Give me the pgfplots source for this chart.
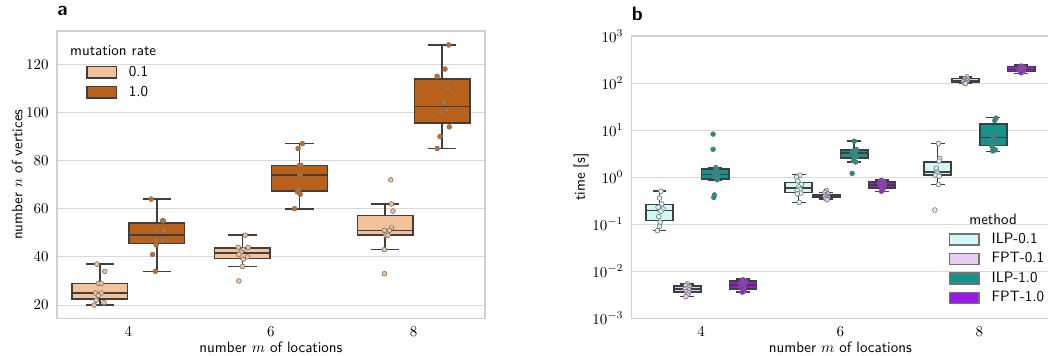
\documentclass[border=0pt]{standalone}
\usepackage{pgfplots}
\pgfplotsset{compat=1.18}
\usepgfplotslibrary{statistics}

\definecolor{lo}{HTML}{F3C29B}
\definecolor{hi}{HTML}{B9611A}
\definecolor{hipt}{HTML}{C96C1F}
\definecolor{ilpa}{HTML}{D4F7F5}
\definecolor{fpta}{HTML}{E8CCF2}
\definecolor{ilpb}{HTML}{13938B}
\definecolor{fptb}{HTML}{9A1AE3}
\definecolor{edge}{HTML}{3F3F3F}
\definecolor{gridc}{HTML}{D9D9D9}
\definecolor{framec}{HTML}{D0D0D0}

\pgfplotsset{
  common/.style={
    scale only axis,
    axis line style={framec, line width=1pt},
    ymajorgrids,
    grid style={gridc, line width=0.7pt},
    major tick length=0pt,
    tick style={draw=none},
    xmin=3, xmax=9, xtick={4,6,8},
    label style={font=\sffamily},
    xlabel={number $m$ of locations},
    xlabel style={yshift=3pt},
    ylabel shift=-4.5pt,
    yticklabel style={xshift=-2pt},
    xticklabel style={yshift=-2pt},
    title style={at={(0,1)}, anchor=base west, yshift=4pt, inner sep=0pt,
      font=\sffamily\bfseries\fontsize{13}{15}\selectfont},
    legend image code/.code={\draw[#1] (0pt,-3.7pt) rectangle (19.5pt,3.7pt);},
    legend cell align=left,
    legend style={draw=none, fill=none, font=\sffamily, inner sep=0pt,
      nodes={inner sep=1pt, text height=6.9pt, text depth=1.9pt},
      /tikz/every odd column/.append style={column sep=7pt}},
  },
  bx/.style={draw=edge, line width=1.05pt, fill=#1, forget plot, solid, boxplot/draw direction=y},
  pts/.style={only marks, mark=*, mark size=1.6pt, forget plot,
    mark options={fill=#1, draw=black!55, line width=0.4pt}},
}

\begin{document}
\begin{tikzpicture}
\useasboundingbox (0,0) rectangle (698.67pt,237.33pt);

% ---------------- panel a ----------------
\begin{axis}[common,
  at={(38pt,25.13pt)}, anchor=south west,
  width=285.33pt, height=191.53pt,
  ymin=14.5, ymax=133.8, ytick={20,40,60,80,100,120},
  ylabel={number $n$ of vertices},
  title={a},
  legend style={at={(0.068,0.885)}, anchor=north west, row sep=2.5pt},
]
% boxes, mutation rate 0.1
\addplot[bx=lo, boxplot prepared={draw position=3.6, lower whisker=20, lower quartile=22.5, median=25, upper quartile=29, upper whisker=37, box extend=0.78, whisker extend=0.4}] coordinates {};
\addplot[bx=lo, boxplot prepared={draw position=5.6, lower whisker=36, lower quartile=39.25, median=41.5, upper quartile=43.75, upper whisker=49, box extend=0.78, whisker extend=0.4}] coordinates {};
\addplot[bx=lo, boxplot prepared={draw position=7.6, lower whisker=43, lower quartile=49, median=51, upper quartile=57.25, upper whisker=62, box extend=0.78, whisker extend=0.4}] coordinates {};
% boxes, mutation rate 1.0
\addplot[bx=hi, boxplot prepared={draw position=4.4, lower whisker=34, lower quartile=45.5, median=49, upper quartile=54, upper whisker=64, box extend=0.78, whisker extend=0.4}] coordinates {};
\addplot[bx=hi, boxplot prepared={draw position=6.4, lower whisker=60, lower quartile=67.25, median=74, upper quartile=78, upper whisker=87, box extend=0.78, whisker extend=0.4}] coordinates {};
\addplot[bx=hi, boxplot prepared={draw position=8.4, lower whisker=85, lower quartile=95.5, median=102.5, upper quartile=113.75, upper whisker=128, box extend=0.78, whisker extend=0.4}] coordinates {};
% points 0.1
\addplot[pts=lo] table[row sep=\\] {x y\\
3.56 37\\ 3.67 34\\ 3.58 29\\ 3.62 29\\ 3.54 25\\ 3.62 25\\ 3.58 24\\ 3.55 22\\ 3.66 21\\ 3.52 20\\
5.64 49\\ 5.54 44\\ 5.68 44\\ 5.61 43\\ 5.58 42\\ 5.55 41\\ 5.67 40\\ 5.61 39\\ 5.60 36\\ 5.55 30\\
7.68 72\\ 7.69 62\\ 7.71 59\\ 7.69 52\\ 7.59 51\\ 7.66 51\\ 7.61 49\\ 7.64 49\\ 7.59 43\\ 7.59 33\\
};
% points 1.0
\addplot[pts=hipt] table[row sep=\\] {x y\\
4.32 64\\ 4.48 55\\ 4.49 55\\ 4.40 51\\ 4.50 51\\ 4.39 47\\ 4.48 47\\ 4.39 45\\ 4.34 41\\ 4.38 34\\
6.44 87\\ 6.38 85\\ 6.40 78\\ 6.42 78\\ 6.41 74\\ 6.40 74\\ 6.39 68\\ 6.37 67\\ 6.41 66\\ 6.33 60\\
8.49 128\\ 8.44 118\\ 8.33 115\\ 8.48 110\\ 8.43 104\\ 8.46 101\\ 8.38 100\\ 8.50 94\\ 8.37 90\\ 8.33 85\\
};
\addlegendimage{draw=edge, line width=0.8pt, fill=lo}
\addlegendentry{0.1}
\addlegendimage{draw=edge, line width=0.8pt, fill=hi}
\addlegendentry{1.0}
\node[anchor=west, font=\sffamily, inner sep=0pt] at (rel axis cs:0.030,0.930) {mutation rate};
\end{axis}

% ---------------- panel b ----------------
\begin{axis}[common,
  at={(421.13pt,25.13pt)}, anchor=south west,
  width=278.2pt, height=188.2pt,
  ymode=log, ymin=1e-3, ymax=1e3,
  ytick={1e-3,1e-2,1e-1,1,1e1,1e2,1e3},
  ylabel={time [s]},
  title={b},
  legend style={at={(0.760,0.309)}, anchor=north west, row sep=2.2pt},
]
% ILP-0.1
\addplot[bx=ilpa, boxplot prepared={draw position=3.4, lower whisker=0.073, lower quartile=0.119, median=0.194, upper quartile=0.26, upper whisker=0.508, box extend=0.39, whisker extend=0.2}] coordinates {};
\addplot[bx=ilpa, boxplot prepared={draw position=5.4, lower whisker=0.287, lower quartile=0.469, median=0.58, upper quartile=0.776, upper whisker=1.15, box extend=0.39, whisker extend=0.2}] coordinates {};
\addplot[bx=ilpa, boxplot prepared={draw position=7.4, lower whisker=0.70, lower quartile=1.11, median=1.27, upper quartile=2.1, upper whisker=5.24, box extend=0.39, whisker extend=0.2}] coordinates {};
% FPT-0.1
\addplot[bx=fpta, boxplot prepared={draw position=3.8, lower whisker=0.0029, lower quartile=0.0036, median=0.0042, upper quartile=0.0049, upper whisker=0.0054, box extend=0.39, whisker extend=0.2}] coordinates {};
\addplot[bx=fpta, boxplot prepared={draw position=5.8, lower whisker=0.34, lower quartile=0.366, median=0.40, upper quartile=0.43, upper whisker=0.47, box extend=0.39, whisker extend=0.2}] coordinates {};
\addplot[bx=fpta, boxplot prepared={draw position=7.8, lower whisker=97, lower quartile=105, median=114, upper quartile=124, upper whisker=135, box extend=0.39, whisker extend=0.2}] coordinates {};
% ILP-1.0
\addplot[bx=ilpb, boxplot prepared={draw position=4.2, lower whisker=0.88, lower quartile=0.914, median=1.15, upper quartile=1.49, upper whisker=1.55, box extend=0.39, whisker extend=0.2}] coordinates {};
\addplot[bx=ilpb, boxplot prepared={draw position=6.2, lower whisker=2.1, lower quartile=2.55, median=3.3, upper quartile=3.78, upper whisker=5.87, box extend=0.39, whisker extend=0.2}] coordinates {};
\addplot[bx=ilpb, boxplot prepared={draw position=8.2, lower whisker=3.54, lower quartile=4.67, median=6.9, upper quartile=13.5, upper whisker=18.7, box extend=0.39, whisker extend=0.2}] coordinates {};
% FPT-1.0
\addplot[bx=fptb, boxplot prepared={draw position=4.6, lower whisker=0.0036, lower quartile=0.0042, median=0.0051, upper quartile=0.0062, upper whisker=0.0068, box extend=0.39, whisker extend=0.2}] coordinates {};
\addplot[bx=fptb, boxplot prepared={draw position=6.6, lower whisker=0.50, lower quartile=0.59, median=0.68, upper quartile=0.79, upper whisker=0.88, box extend=0.39, whisker extend=0.2}] coordinates {};
\addplot[bx=fptb, boxplot prepared={draw position=8.6, lower whisker=160, lower quartile=175, median=195, upper quartile=223, upper whisker=240, box extend=0.39, whisker extend=0.2}] coordinates {};
% points
\addplot[pts=ilpa] table[row sep=\\] {x y\\
3.42 0.50\\ 3.40 0.36\\ 3.43 0.27\\ 3.38 0.23\\ 3.45 0.21\\ 3.42 0.19\\ 3.39 0.145\\ 3.41 0.11\\ 3.40 0.09\\ 3.37 0.073\\
5.42 1.10\\ 5.37 1.00\\ 5.39 0.83\\ 5.44 0.70\\ 5.40 0.62\\ 5.42 0.55\\ 5.38 0.52\\ 5.43 0.46\\ 5.38 0.44\\ 5.41 0.29\\
7.41 5.2\\ 7.43 2.5\\ 7.42 2.2\\ 7.38 1.55\\ 7.39 1.3\\ 7.40 1.2\\ 7.37 1.1\\ 7.42 1.05\\ 7.41 0.70\\ 7.36 0.20\\
};
\addplot[pts=fpta] table[row sep=\\] {x y\\
3.80 0.0054\\ 3.78 0.0050\\ 3.83 0.0047\\ 3.81 0.0044\\ 3.77 0.0042\\ 3.82 0.0040\\ 3.79 0.0037\\ 3.82 0.0035\\ 3.80 0.0032\\ 3.78 0.0029\\
5.80 0.52\\ 5.78 0.47\\ 5.82 0.44\\ 5.79 0.42\\ 5.81 0.40\\ 5.78 0.39\\ 5.82 0.37\\ 5.80 0.36\\ 5.79 0.345\\ 5.81 0.33\\
7.82 135\\ 7.79 125\\ 7.83 120\\ 7.80 115\\ 7.78 112\\ 7.82 110\\ 7.77 106\\ 7.81 103\\ 7.79 100\\ 7.80 97\\
};
\addplot[pts=ilpb] table[row sep=\\] {x y\\
4.17 8.2\\ 4.17 3.9\\ 4.21 1.6\\ 4.22 1.45\\ 4.19 1.25\\ 4.23 1.1\\ 4.18 1.05\\ 4.23 0.88\\ 4.19 0.42\\ 4.18 0.37\\
6.20 5.8\\ 6.23 3.9\\ 6.18 3.6\\ 6.21 3.3\\ 6.17 3.1\\ 6.24 2.8\\ 6.20 2.6\\ 6.19 2.25\\ 6.22 2.1\\ 6.17 1.2\\
8.24 18\\ 8.22 16\\ 8.22 8\\ 8.20 7\\ 8.19 6\\ 8.21 5.2\\ 8.18 4.5\\ 8.20 4.0\\ 8.23 3.8\\ 8.19 3.6\\
};
\addplot[pts=fptb] table[row sep=\\] {x y\\
4.60 0.0066\\ 4.63 0.0063\\ 4.58 0.0060\\ 4.62 0.0056\\ 4.60 0.0052\\ 4.57 0.0050\\ 4.61 0.0046\\ 4.59 0.0043\\ 4.62 0.0038\\ 4.59 0.0036\\
6.59 0.86\\ 6.62 0.80\\ 6.57 0.76\\ 6.63 0.72\\ 6.60 0.69\\ 6.58 0.66\\ 6.61 0.62\\ 6.62 0.58\\ 6.60 0.52\\ 6.59 0.50\\
8.60 230\\ 8.63 218\\ 8.58 210\\ 8.62 205\\ 8.60 198\\ 8.57 192\\ 8.61 185\\ 8.63 178\\ 8.59 170\\ 8.60 165\\
};
\addlegendimage{draw=black!55, line width=0.8pt, fill=ilpa}
\addlegendentry{ILP-0.1}
\addlegendimage{draw=black!55, line width=0.8pt, fill=fpta}
\addlegendentry{FPT-0.1}
\addlegendimage{draw=black!55, line width=0.8pt, fill=ilpb}
\addlegendentry{ILP-1.0}
\addlegendimage{draw=black!55, line width=0.8pt, fill=fptb}
\addlegendentry{FPT-1.0}
\node[anchor=center, font=\sffamily, inner sep=0pt] at (rel axis cs:0.866,0.352) {method};
\end{axis}
\end{tikzpicture}
\end{document}
